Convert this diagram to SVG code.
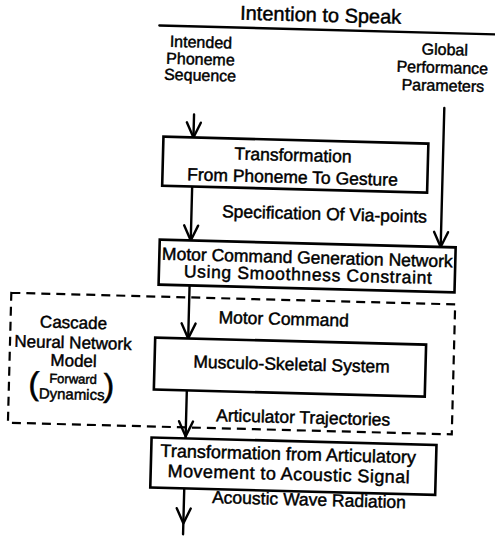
<svg xmlns="http://www.w3.org/2000/svg" width="495" height="542" viewBox="0 0 495 542">
<style>
  text { font-family: "Liberation Sans", Arial, Helvetica, sans-serif; fill: #000; stroke: #000; stroke-width: 0.45; text-anchor: middle; }
  .t20 { font-size: 20px; }
  .t16 { font-size: 16px; }
  .t17 { font-size: 17.5px; }
  .box { fill: #fff; stroke: #000; stroke-width: 2.6; }
  .ln { fill: none; stroke: #000; stroke-width: 2.4; stroke-linecap: round; stroke-linejoin: round; }
  .dash { fill: none; stroke: #000; stroke-width: 2.2; stroke-dasharray: 9 6; }
</style>
<defs>
  <path id="chev" d="M -7 -15 L 0 0 L 7 -15" class="ln"/>
</defs>
<rect width="495" height="542" fill="#fff"/>
<g transform="rotate(1.5 250 270)">
  <g id="intention">
    <line x1="153" y1="28" x2="520" y2="28" class="ln" stroke-width="2"/>
    <text class="t20" x="314" y="20">Intention to Speak</text>
  </g>
  <g id="phoneme-seq">
    <text class="t16" x="195" y="49">Intended</text>
    <text class="t16" x="195" y="66">Phoneme</text>
    <text class="t16" x="195" y="82">Sequence</text>
  </g>
  <g id="global-params">
    <text class="t16" x="439" y="50">Global</text>
    <text class="t16" x="437" y="68">Performance</text>
    <text class="t16" x="438" y="86">Parameters</text>
  </g>
  <g id="dashed-group">
    <rect x="12" y="299" width="444" height="130" class="dash"/>
    <text x="75" y="333" style="font-size:17px">Cascade</text>
    <text x="75" y="353" style="font-size:17px">Neural Network</text>
    <text x="76" y="371" style="font-size:17px">Model</text>
    <text x="76" y="388" style="font-size:13px">Forward</text>
    <text x="75" y="404" style="font-size:15px">Dynamics</text>
    <text x="37" y="400" style="font-size:32px;stroke-width:0.6">(</text>
    <text x="112" y="400" style="font-size:32px;stroke-width:0.6">)</text>
  </g>
  <g id="connectors">
    <line x1="190" y1="116" x2="190" y2="139" class="ln"/>
    <use href="#chev" x="190" y="139"/>
    <line x1="440" y1="103" x2="440" y2="242" class="ln"/>
    <use href="#chev" x="440" y="242"/>
    <line x1="190" y1="188" x2="190" y2="242" class="ln"/>
    <use href="#chev" x="190" y="242"/>
    <line x1="190" y1="287" x2="190" y2="340" class="ln"/>
    <use href="#chev" x="190" y="340"/>
    <line x1="190" y1="392" x2="190" y2="440" class="ln"/>
    <use href="#chev" x="190" y="438"/>
    <line x1="190" y1="490" x2="190" y2="536" class="ln"/>
    <use href="#chev" x="190" y="525"/>
    <text class="t17" x="323" y="218">Specification Of Via-points</text>
    <text class="t17" x="285" y="324">Motor Command</text>
    <text class="t17" x="307" y="422">Articulator Trajectories</text>
    <text class="t17" x="315" y="504">Acoustic Wave Radiation</text>
  </g>
  <g id="phoneme-to-gesture">
    <rect x="160" y="139" width="265" height="49" class="box"/>
    <text class="t17" x="290" y="160">Transformation</text>
    <text class="t17" x="290" y="182">From Phoneme To Gesture</text>
  </g>
  <g id="motor-command-net">
    <rect x="159" y="242" width="296" height="45" class="box"/>
    <text class="t17" x="307" y="262">Motor Command Generation Network</text>
    <text class="t17" x="308" y="279" textLength="248">Using Smoothness Constraint</text>
  </g>
  <g id="musculo-skeletal">
    <rect x="157" y="340" width="271" height="52" class="box"/>
    <text class="t17" x="294" y="369">Musculo-Skeletal System</text>
  </g>
  <g id="acoustic-transform">
    <rect x="156" y="440" width="285" height="50" class="box"/>
    <text x="293" y="459" style="font-size:18px">Transformation from Articulatory</text>
    <text x="294" y="479" style="font-size:18px" textLength="242">Movement to Acoustic Signal</text>
  </g>
</g>
</svg>
